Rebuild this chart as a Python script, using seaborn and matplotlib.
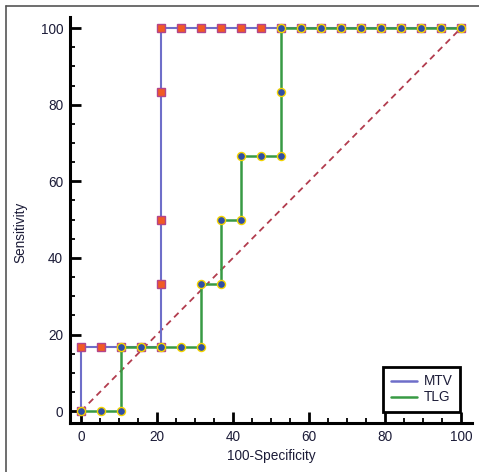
import pandas as pd
import matplotlib
matplotlib.use("Agg")
import matplotlib.pyplot as plt
from matplotlib.lines import Line2D
from matplotlib.ticker import MultipleLocator
import seaborn as sns

# ROC points (x = 100-Specificity, y = Sensitivity)
mtv_x = [0, 0, 5.3, 10.5, 15.8, 21.1, 21.1, 21.1, 21.1, 21.1, 26.3, 31.6, 36.8,
         42.1, 47.4, 52.6, 57.9, 63.2, 68.4, 73.7, 78.9, 84.2, 89.5, 94.7, 100]
mtv_y = [0, 16.7, 16.7, 16.7, 16.7, 16.7, 33.3, 50, 83.3, 100, 100, 100, 100,
         100, 100, 100, 100, 100, 100, 100, 100, 100, 100, 100, 100]

tlg_x = [0, 5.3, 10.5, 10.5, 15.8, 21.1, 26.3, 31.6, 31.6, 36.8, 36.8, 42.1, 42.1,
         47.4, 52.6, 52.6, 52.6, 57.9, 63.2, 68.4, 73.7, 78.9, 84.2, 89.5, 94.7, 100]
tlg_y = [0, 0, 0, 16.7, 16.7, 16.7, 16.7, 16.7, 33.3, 33.3, 50, 50, 66.7,
         66.7, 66.7, 83.3, 100, 100, 100, 100, 100, 100, 100, 100, 100, 100]

ref_x = [0, 100]
ref_y = [0, 100]

series_names = ["MTV", "TLG"]
line_colors = {"MTV": "#6e6ec9", "TLG": "#389a44"}
text_color = "#1c1c38"

sns.set_style("ticks")
plt.rcParams["font.family"] = ["Liberation Sans", "DejaVu Sans"]

fig = plt.figure(figsize=(4.79, 4.72), dpi=100)
ax = fig.add_axes([0.1461, 0.1038, 0.8393, 0.8602])

mtv_df = pd.DataFrame({"x": mtv_x, "y": mtv_y})
tlg_df = pd.DataFrame({"x": tlg_x, "y": tlg_y})
ref_df = pd.DataFrame({"x": ref_x, "y": ref_y})

# chance diagonal
sns.lineplot(data=ref_df, x="x", y="y", ax=ax, color="#b23c4e", linewidth=1.3,
             linestyle=(0, (3.5, 2.6)), sort=False, estimator=None, zorder=1)

sns.lineplot(data=mtv_df, x="x", y="y", ax=ax, color=line_colors["MTV"], linewidth=1.5,
             marker="s", markersize=5.8, markerfacecolor="#f15a24", markeredgecolor="#b2458c",
             markeredgewidth=1.0, sort=False, estimator=None, zorder=2)

sns.lineplot(data=tlg_df, x="x", y="y", ax=ax, color=line_colors["TLG"], linewidth=1.8,
             marker="o", markersize=5.8, markerfacecolor="#2f4ea6", markeredgecolor="#f3d300",
             markeredgewidth=1.0, sort=False, estimator=None, zorder=3)

ax.set_xlim(-2.9, 102.9)
ax.set_ylim(-3.1, 102.9)

ax.xaxis.set_major_locator(MultipleLocator(20))
ax.yaxis.set_major_locator(MultipleLocator(20))
ax.xaxis.set_minor_locator(MultipleLocator(5))
ax.yaxis.set_minor_locator(MultipleLocator(5))

for side in ["top", "right"]:
    ax.spines[side].set_visible(False)
for side in ["left", "bottom"]:
    ax.spines[side].set_linewidth(2.2)
    ax.spines[side].set_color("black")

ax.tick_params(which="major", direction="in", length=8, width=2.0, color="black",
               labelsize=9.8, labelcolor=text_color, pad=5)
ax.tick_params(which="minor", direction="in", length=3.5, width=1.3, color="black")

ax.set_xlabel("100-Specificity", fontsize=9.8, color=text_color)
ax.set_ylabel("Sensitivity", fontsize=9.8, color=text_color)
ax.xaxis.set_label_coords(0.5, -0.064)
ax.yaxis.set_label_coords(-0.107, 0.47)

handles = [Line2D([0], [0], color=line_colors[n], linewidth=1.8) for n in series_names]
leg = ax.legend(handles, series_names, loc="lower right", bbox_to_anchor=(0.970, 0.0274),
                borderaxespad=0, frameon=True, fancybox=False, framealpha=1,
                fontsize=9.8, handlelength=1.9, handletextpad=0.5, labelspacing=0.15,
                borderpad=0.55)
leg.get_frame().set_edgecolor("black")
leg.get_frame().set_linewidth(2.0)
for t in leg.get_texts():
    t.set_color(text_color)

# thin gray frame on the left and top edges of the image
fig.add_artist(Line2D([0.0125, 0.0125], [0, 0.987], color="#555555", linewidth=1.2))
fig.add_artist(Line2D([0.0125, 1], [0.987, 0.987], color="#555555", linewidth=1.2))

fig.savefig("out.png", dpi=100)
plt.close(fig)
